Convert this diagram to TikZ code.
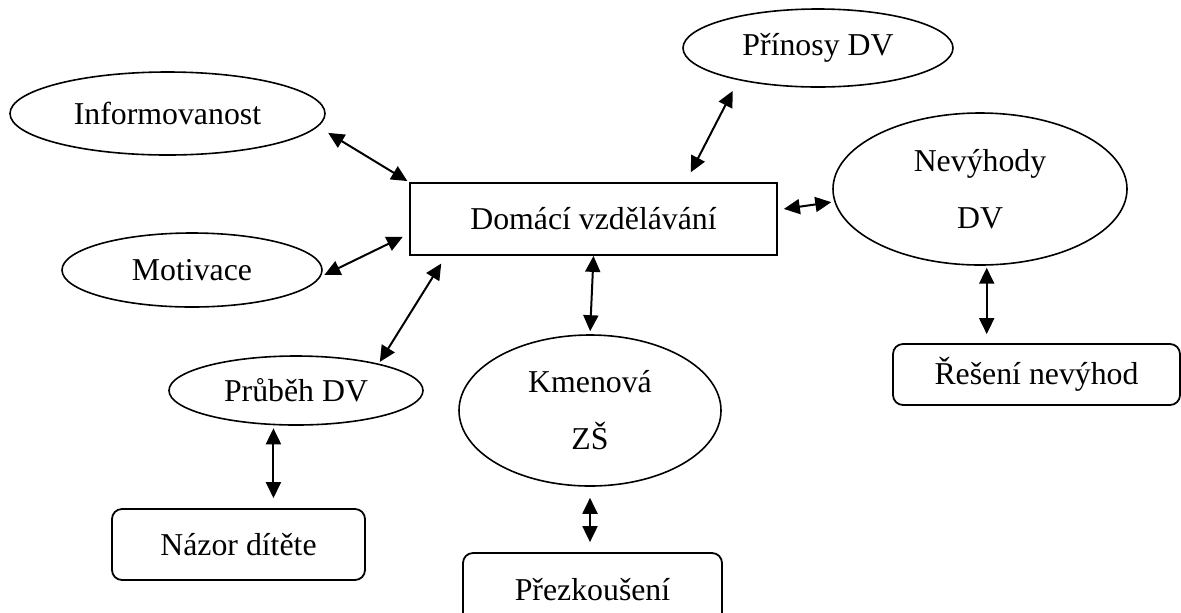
\documentclass[tikz,border=0pt]{standalone}
\usepackage{fontspec}
\setmainfont{Liberation Serif}
\usetikzlibrary{arrows.meta,shapes.geometric,calc}
\newcommand{\diagfont}{\fontsize{15.9}{28.5}\selectfont}
\tikzset{
    %Define standard arrow tip
    >={Triangle[length=8pt,width=7.5pt]},
    %Define style for nodes
    bubble/.style={
           ellipse,
           draw=black, line width=0.8pt,
           inner sep=0pt,
           align=center,
           font=\diagfont},
    box/.style={
           rectangle,
           draw=black, line width=0.9pt,
           inner sep=0pt,
           align=center,
           font=\diagfont},
    roundbox/.style={
           box,
           rounded corners=5pt},
    % Define arrow style
    link/.style={
           <->,
           line width=1pt}
}
\begin{document}
\begin{tikzpicture}[x=0.5pt,y=-0.5pt]
\useasboundingbox (0,0) rectangle (1181,612);
\node[box, minimum width=183.5pt, minimum height=36pt] (dom) at (593.5,219) {Domácí vzdělávání};
\node[bubble, minimum width=157.5pt, minimum height=41.5pt] (info) at (167.5,113.5) {Informovanost};
\node[bubble, minimum width=135pt, minimum height=39pt] (prin) at (818,48) {Přínosy DV};
\node[bubble, minimum width=147pt, minimum height=76pt] (nev) at (980,189) {Nevýhody\\DV};
\node[bubble, minimum width=130pt, minimum height=37pt] (mot) at (192,270) {Motivace};
\node[bubble, minimum width=127pt, minimum height=34.5pt] (prubeh) at (296,390.5) {Průběh DV};
\node[bubble, minimum width=131pt, minimum height=75.5pt] (kmen) at (590,410.5) {Kmenová\\ZŠ};
\node[roundbox, minimum width=143.5pt, minimum height=30.5pt] (reseni) at (1036.5,374.5) {Řešení nevýhod};
\node[roundbox, minimum width=126.5pt, minimum height=35.5pt] (nazor) at (238.5,544.5) {Názor dítěte};
\node[roundbox, minimum width=129.5pt, minimum height=37pt] (prezk) at (592.5,590) {Přezkoušení};
\draw[link, shorten <=6pt, shorten >=1pt] (info.-5) -- (dom.north west);
\draw[link, shorten <=2pt, shorten >=3.5pt] (mot.-3) -- ($(dom.west)!0.4!(dom.south west)$);
\draw[link, shorten <=1pt, shorten >=4.5pt] (prubeh.18) -- ($(dom.south west)!0.1!(dom.south east)$);
\draw[link, shorten >=1.5pt] (dom.south) -- (kmen.north);
\draw[link, shorten <=5.5pt, shorten >=5pt] (kmen.south) -- (kmen.south |- prezk.north);
\draw[link, shorten <=3pt, shorten >=1.5pt] ($(dom.east)!0.25!(dom.north east)$) -- (nev.185);
\draw[link, shorten <=5.5pt, shorten >=6pt] ($(dom.north west)!0.75!(dom.north east)$) -- (prin.202);
\draw[link, shorten <=1pt, shorten >=4.5pt] (nev.275) -- (nev.275 |- reseni.north);
\draw[link, shorten <=1.5pt, shorten >=5pt] (prubeh.237) -- (prubeh.237 |- nazor.north);
\end{tikzpicture}
\end{document}
